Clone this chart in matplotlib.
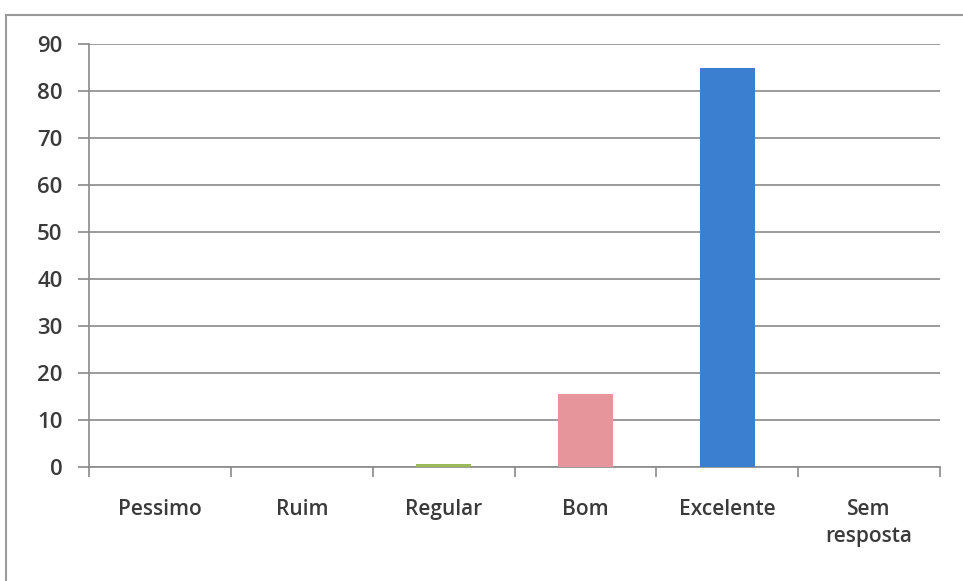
import matplotlib
matplotlib.use("Agg")
import matplotlib.pyplot as plt
from matplotlib.patches import Rectangle

categories = ["Pessimo", "Ruim", "Regular", "Bom", "Excelente", "Sem\nresposta"]
values = [0, 0, 0.6, 15.5, 85, 0]
colors = ["#4F81BD", "#C0504D", "#9BBB59", "#E6959A", "#3B80D0", "#4F81BD"]
yticks = [0, 10, 20, 30, 40, 50, 60, 70, 80, 90]

plt.rcParams['font.family'] = ['Open Sans', 'DejaVu Sans']

fig = plt.figure(figsize=(9.63, 5.81), dpi=100)
fig.patches.append(Rectangle((6/963, -0.05), 1.2, 1 - 15/581 + 0.05,
                             transform=fig.transFigure, fill=False,
                             edgecolor="#9a9a9a", linewidth=1.5))
ax = fig.add_axes([89/963, 1 - 467/581, (940 - 89)/963, (467 - 44)/581])

x = list(range(len(categories)))
ax.bar(x, values, width=0.39, color=colors, zorder=3)
ax.set_xlim(-0.5, len(categories) - 0.5)
ax.set_ylim(0, 90)
ax.set_yticks(yticks)
ax.set_yticklabels([str(t) for t in yticks], fontsize=16, fontweight='semibold', color="#3a3a3a")
ax.yaxis.grid(True, color="#8a8a8a", linewidth=1.2, zorder=0)
ax.set_xticks(x)
ax.set_xticklabels(categories, fontsize=15, fontweight='semibold', color="#3a3a3a",
                   linespacing=1.4)
ax.tick_params(axis='x', length=0, pad=23)
ax.tick_params(axis='y', length=8, color="#8a8a8a", width=1.2, pad=11)
# category separator ticks
ax.set_xticks([i - 0.5 for i in range(len(categories) + 1)], minor=True)
ax.tick_params(axis='x', which='minor', length=7, color="#8a8a8a", width=1.2)
for s in ["top", "right"]:
    ax.spines[s].set_visible(False)
for s in ["left", "bottom"]:
    ax.spines[s].set_color("#8a8a8a")
    ax.spines[s].set_linewidth(1.2)

fig.savefig("out.png", dpi=100, facecolor="white")
